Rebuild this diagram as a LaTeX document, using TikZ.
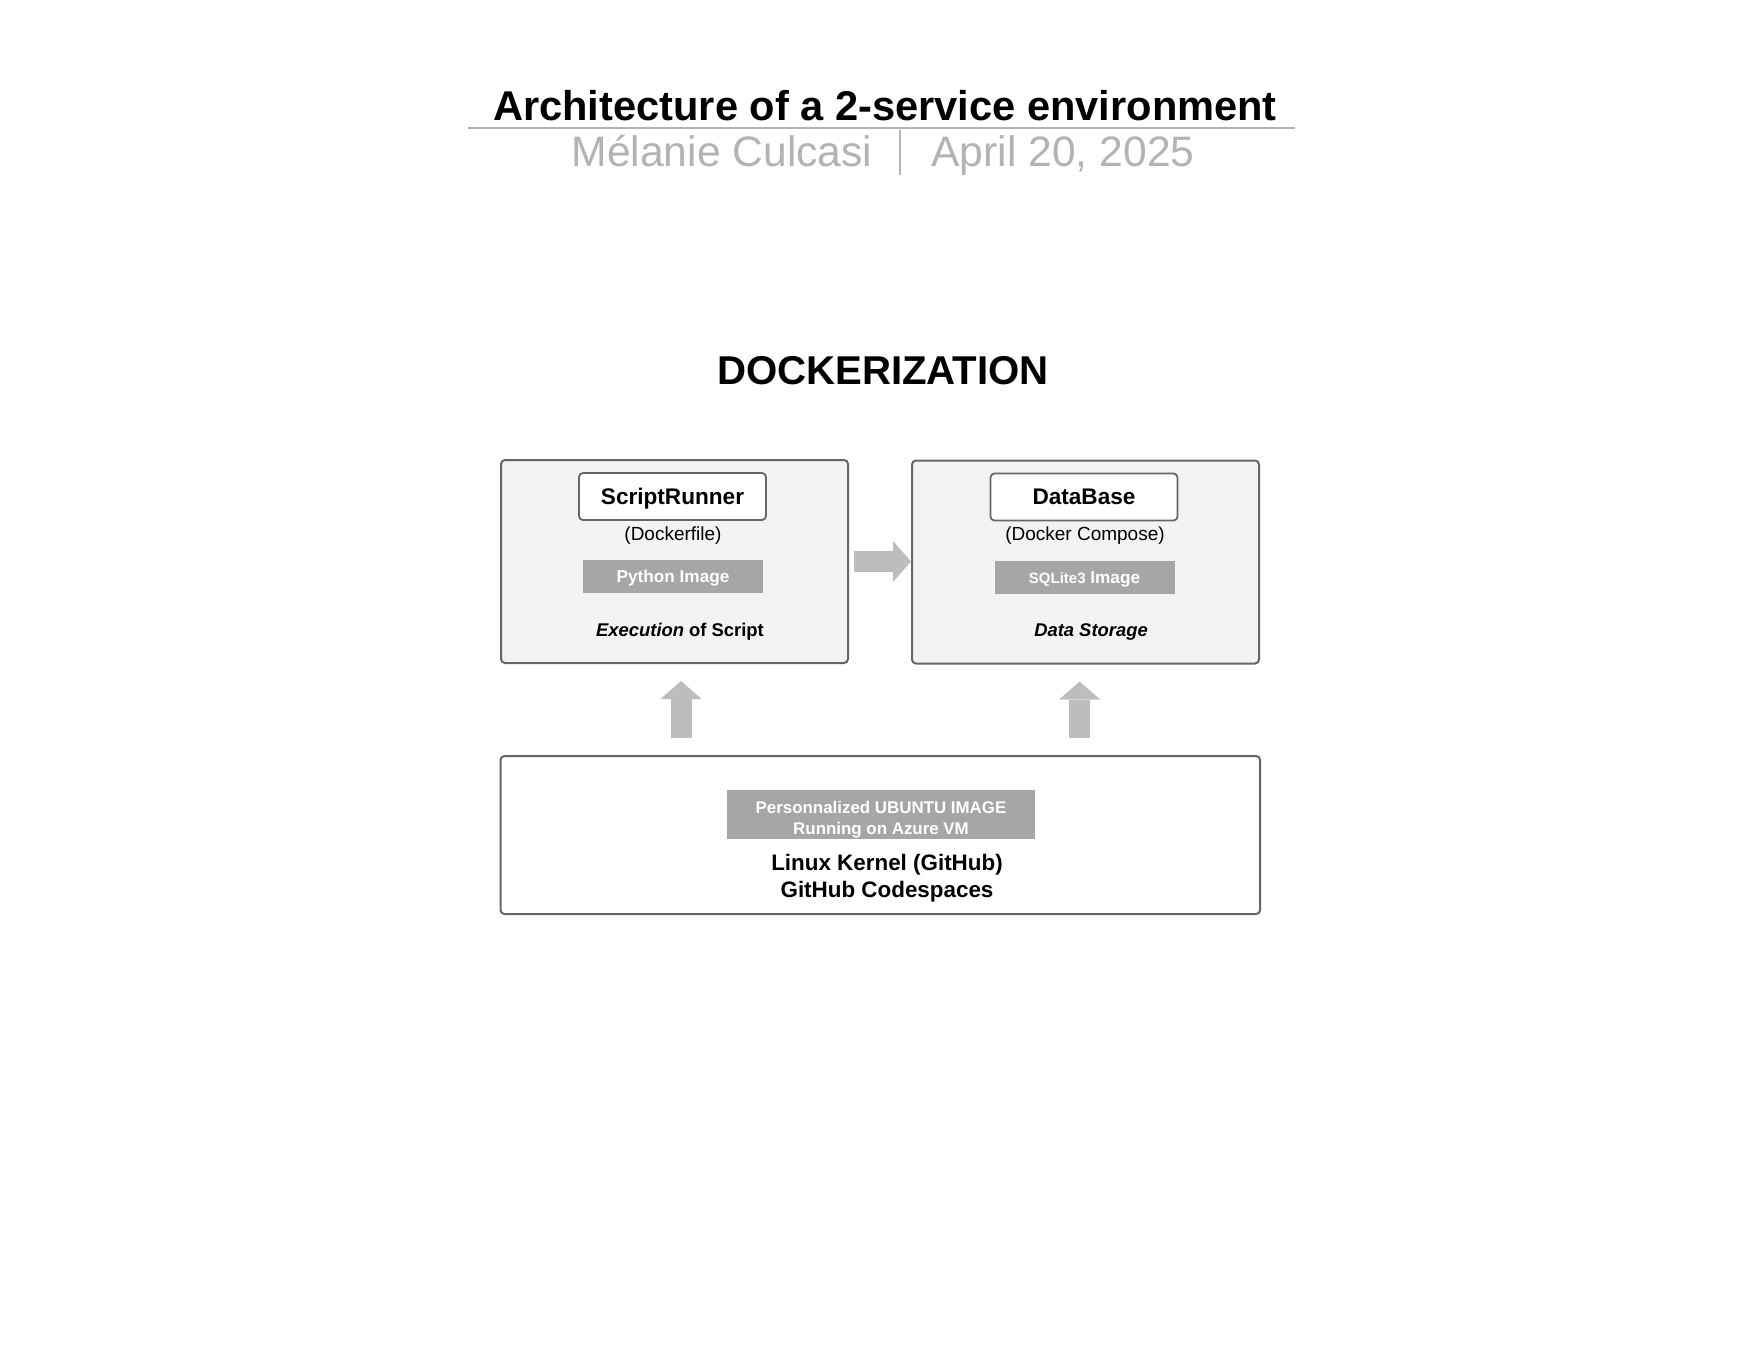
\documentclass[tikz,border=0pt]{standalone}
\usepackage{fontspec}
\setmainfont{Liberation Sans}
\usetikzlibrary{arrows.meta}

\definecolor{boxfill}{HTML}{F2F3F5}
\definecolor{boxline}{HTML}{666666}
\definecolor{imgfill}{HTML}{A6A6A8}
\definecolor{arrowgrey}{HTML}{BDBDBD}
\definecolor{subgrey}{HTML}{B3B3B3}

\tikzset{
  container/.style={draw=boxline, line width=1pt, rounded corners=2pt, fill=boxfill,
    minimum width=173.5pt, minimum height=101.5pt, inner sep=0pt},
  namebox/.style={draw=boxline, line width=0.9pt, rounded corners=2pt, fill=white,
    minimum width=93.5pt, minimum height=23.5pt, inner sep=0pt, text depth=0pt,
    font=\fontsize{11.3pt}{13pt}\selectfont\bfseries},
  imagebox/.style={fill=imgfill, text=white, minimum width=90pt, minimum height=16.5pt,
    inner sep=0pt, text depth=0pt, font=\fontsize{8.6pt}{10pt}\selectfont\bfseries},
  note/.style={inner sep=0pt, font=\fontsize{9.5pt}{11pt}\selectfont},
  blockarrow/.style={draw=arrowgrey, line width=10.5pt,
    -{Triangle[width=20.5pt,length=9pt,line width=0pt]}},
}

\begin{document}
\begin{tikzpicture}[x=0.5pt,y=0.5pt,yscale=-1]
\useasboundingbox (0,0) rectangle (1760,1360);

% header
\node[anchor=base, inner sep=0pt, font=\fontsize{20.8pt}{24pt}\selectfont\bfseries] (title) at (885,120) {Architecture of a 2-service environment};
\draw[subgrey, line width=0.75pt] (468,128) -- (1295,128);
\node[anchor=base, inner sep=0pt, text=subgrey, font=\fontsize{21.3pt}{24pt}\selectfont] (author) at (722,166) {Mélanie Culcasi};
\node[anchor=base, inner sep=0pt, text=subgrey, font=\fontsize{21.3pt}{24pt}\selectfont] (date) at (1063,166) {April 20, 2025};
\draw[subgrey, line width=1pt] (900,130) -- (900,175);

\node[anchor=base, inner sep=0pt, font=\fontsize{20.1pt}{24pt}\selectfont\bfseries] (heading) at (883,384.5) {DOCKERIZATION};

% script runner service
\node[container] (runner) at (674.5,561.5) {};
\node[namebox] (runnername) at (672.5,496.5) {ScriptRunner};
\node[note] (runnerfile) at (673,536) {(Dockerfile)};
\node[imagebox] (runnerimage) at (673,576.5) {Python Image};
\node[note, font=\fontsize{9.2pt}{11pt}\selectfont\bfseries] (runnerrole) at (680,632) {\textit{Execution} of Script};

% database service
\node[container] (db) at (1085.5,562) {};
\node[namebox] (dbname) at (1084,497) {DataBase};
\node[note] (dbfile) at (1085,536) {(Docker Compose)};
\node[imagebox] (dbimage) at (1084.5,577.5) {{\fontsize{7.5pt}{9pt}\selectfont SQLite3} Image};
\node[note, font=\fontsize{9.2pt}{11pt}\selectfont\bfseries\itshape] (dbrole) at (1091,632) {Data Storage};

% host
\node[container, fill=white, minimum width=379.8pt, minimum height=79pt] (host) at (880.3,835) {};
\node[imagebox, minimum width=154pt, minimum height=24.5pt,
  font=\fontsize{8.45pt}{10.2pt}\selectfont\bfseries] (hostimage) at (881,814.5)
  {\raisebox{2.8pt}{\begin{tabular}{@{}c@{}}Personnalized UBUNTU IMAGE\\Running on Azure VM\end{tabular}}};
\node[note, align=center, font=\fontsize{11.2pt}{13.5pt}\selectfont\bfseries] (hostname) at (887,878.3) {Linux Kernel (GitHub)\\GitHub Codespaces};

% arrows
\draw[blockarrow, shorten <=2.5pt, shorten >=0pt] (runner.east) -- (runner.east -| db.west);
\draw[blockarrow, shorten <=8.5pt, shorten >=8.5pt] ([xshift=3.25pt]host.north -| runner.south) -- ([xshift=3.25pt]runner.south);
\draw[blockarrow, shorten <=8.5pt, shorten >=8.5pt] ([xshift=-2.95pt]host.north -| db.south) -- ([xshift=-2.95pt]db.south);

\end{tikzpicture}
\end{document}
